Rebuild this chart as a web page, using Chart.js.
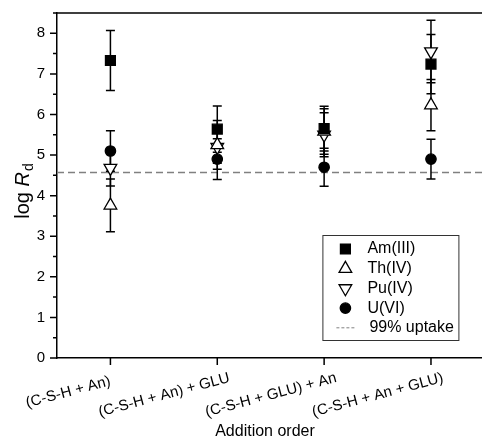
<!DOCTYPE html>
<html>
<head>
<meta charset="utf-8">
<script src="https://cdn.jsdelivr.net/npm/chart.js@4"></script>
<style>
  html, body { margin: 0; padding: 0; background: #fff; overflow: hidden; }
  #wrap { width: 493px; height: 439px; }
</style>
</head>
<body>
<div id="wrap"><canvas id="chart" width="493" height="439"></canvas></div>
<script>
// categories and values (log Rd)
const categories = ['(C-S-H + An)', '(C-S-H + An) + GLU', '(C-S-H + GLU) + An', '(C-S-H + An + GLU)'];
const amValues = [7.33, 5.64, 5.65, 7.24];
const amErrors = [0.74, 0.57, 0.55, 0.73];
const thValues = [3.76, 5.25, 5.58, 6.23];
const thErrors = [0.65, 0.6, 0.56, 0.63];
const puValues = [4.68, 5.2, 5.5, 7.55];
const puErrors = [0.44, 0.4, 0.54, 0.77];
const uValues = [5.1, 4.9, 4.7, 4.9];
const uErrors = [0.5, 0.5, 0.47, 0.49];
const uptakeLevel = 4.57;
const yTicks = [0, 1, 2, 3, 4, 5, 6, 7, 8];

const FONT = '"Liberation Sans", Arial, sans-serif';

// vertical error bars with caps, drawn under the markers
const errorBars = {
  id: 'errorBars',
  beforeDatasetsDraw(chart) {
    const ctx = chart.ctx;
    const y = chart.scales.y;
    const area = chart.chartArea;

    // 99% uptake line
    const yu = y.getPixelForValue(uptakeLevel);
    ctx.save();
    ctx.strokeStyle = '#808080';
    ctx.lineWidth = 1.5;
    ctx.setLineDash([7, 4]);
    ctx.beginPath();
    ctx.moveTo(area.left, yu);
    ctx.lineTo(area.right, yu);
    ctx.stroke();
    ctx.restore();

    chart.data.datasets.forEach((ds, i) => {
      const meta = chart.getDatasetMeta(i);
      meta.data.forEach((pt, j) => {
        const v = ds.data[j], e = ds.errors[j];
        const top = y.getPixelForValue(v + e);
        const bot = y.getPixelForValue(v - e);
        ctx.save();
        ctx.strokeStyle = '#000';
        ctx.lineWidth = 1.5;
        ctx.beginPath();
        ctx.moveTo(pt.x, top); ctx.lineTo(pt.x, bot);
        ctx.moveTo(pt.x - 4.5, top); ctx.lineTo(pt.x + 4.5, top);
        ctx.moveTo(pt.x - 4.5, bot); ctx.lineTo(pt.x + 4.5, bot);
        ctx.stroke();
        ctx.restore();
      });
    });
  }
};

// frame ticks, titles and the boxed legend
const decorations = {
  id: 'decorations',
  afterDraw(chart) {
    const ctx = chart.ctx;
    const area = chart.chartArea;
    const x = chart.scales.x, y = chart.scales.y;
    ctx.save();
    ctx.strokeStyle = '#000';
    ctx.lineWidth = 1.5;
    ctx.beginPath();
    ctx.moveTo(area.left, area.top);
    ctx.lineTo(area.right + 10, area.top);
    // y ticks, major and minor
    yTicks.forEach(v => {
      const py = y.getPixelForValue(v);
      ctx.moveTo(area.left - 7, py); ctx.lineTo(area.left, py);
      if (v + 0.5 <= y.max) {
        const pm = y.getPixelForValue(v + 0.5);
        ctx.moveTo(area.left - 4, pm); ctx.lineTo(area.left, pm);
      }
    });
    // x ticks
    categories.forEach((c, i) => {
      const px = x.getPixelForValue(i);
      ctx.moveTo(px, area.bottom); ctx.lineTo(px, area.bottom + 7);
    });
    ctx.stroke();

    // x title
    ctx.fillStyle = '#000';
    ctx.font = '16px ' + FONT;
    ctx.textAlign = 'center';
    ctx.textBaseline = 'alphabetic';
    ctx.fillText('Addition order', area.left + 208, 436);

    // y title: log R_d
    ctx.save();
    ctx.translate(29, (area.top + area.bottom) / 2 + 6);
    ctx.rotate(-Math.PI / 2);
    ctx.textAlign = 'left';
    ctx.font = '20px ' + FONT;
    const w1 = ctx.measureText('log ').width;
    ctx.font = 'italic 20px ' + FONT;
    const w2 = ctx.measureText('R').width;
    ctx.font = '14px ' + FONT;
    const w3 = ctx.measureText('d').width;
    let sx = -(w1 + w2 + w3) / 2;
    ctx.font = '20px ' + FONT;
    ctx.fillText('log ', sx, 0);
    ctx.font = 'italic 20px ' + FONT;
    ctx.fillText('R', sx + w1, 0);
    ctx.font = '14px ' + FONT;
    ctx.fillText('d', sx + w1 + w2 + 1, 4);
    ctx.restore();

    // legend box
    const bx = area.right - 162, by = area.bottom - 123, bw = 136, bh = 105;
    ctx.lineWidth = 1;
    ctx.strokeStyle = '#333';
    ctx.strokeRect(bx + 0.5, by + 0.5, bw, bh);
    ctx.font = '16px ' + FONT;
    ctx.textAlign = 'left';
    ctx.textBaseline = 'middle';
    chart.data.datasets.forEach((ds, i) => {
      const ly = by + 14 + i * 19.7;
      ctx.fillStyle = ds.pointBackgroundColor;
      ctx.strokeStyle = ds.pointBorderColor;
      ctx.lineWidth = ds.pointBorderWidth;
      Chart.helpers.drawPoint(ctx, {
        pointStyle: ds.pointStyle,
        rotation: ds.pointRotation || 0,
        radius: ds.pointRadius,
        borderWidth: ds.pointBorderWidth
      }, bx + 23, ly);
      ctx.fillStyle = '#000';
      ctx.fillText(ds.label, bx + 45, ly);
    });
    const ly = by + 14 + 4 * 19.7;
    ctx.strokeStyle = '#808080';
    ctx.lineWidth = 1;
    ctx.setLineDash([3, 2]);
    ctx.beginPath();
    ctx.moveTo(bx + 14, ly); ctx.lineTo(bx + 32, ly);
    ctx.stroke();
    ctx.setLineDash([]);
    ctx.fillStyle = '#000';
    ctx.fillText('99% uptake', bx + 47, ly);
    ctx.restore();
  }
};

function series(label, values, errors, style, radius, fill, rotation) {
  return {
    label: label,
    data: values,
    errors: errors,
    showLine: false,
    pointStyle: style,
    pointRotation: rotation,
    pointRadius: radius,
    pointHoverRadius: radius,
    pointBackgroundColor: fill,
    pointBorderColor: '#000',
    pointBorderWidth: 1.3
  };
}

new Chart(document.getElementById('chart'), {
  type: 'line',
  data: {
    labels: categories,
    datasets: [
      series('Am(III)', amValues, amErrors, 'rect', 7, '#000', 0),
      series('Th(IV)', thValues, thErrors, 'triangle', 7.3, '#fff', 0),
      series('Pu(IV)', puValues, puErrors, 'triangle', 7.3, '#fff', 180),
      series('U(VI)', uValues, uErrors, 'circle', 5.2, '#000', 0)
    ]
  },
  options: {
    responsive: false,
    animation: false,
    devicePixelRatio: 1,
    layout: { padding: { left: 0, top: 13, right: 2, bottom: 0 } },
    plugins: {
      legend: { display: false },
      tooltip: { enabled: false }
    },
    scales: {
      x: {
        type: 'category',
        offset: true,
        grid: { drawOnChartArea: false, drawTicks: false },
        border: { display: true, color: '#000', width: 1.5 },
        ticks: {
          color: '#000',
          font: { family: FONT, size: 15 },
          minRotation: 15,
          maxRotation: 15,
          autoSkip: false,
          padding: 11,
          labelOffset: 12,
          // the first label sits flush with its tick in the original
          callback: (v, i) => i === 0 ? categories[i] + '   ' : categories[i]
        },
        afterFit(scale) {
          scale.height = 81;
          scale.paddingLeft = 0;
          scale.paddingRight = 0;
        }
      },
      y: {
        min: 0,
        max: 8.5,
        grid: { drawOnChartArea: false, drawTicks: false },
        border: { display: true, color: '#000', width: 1.5 },
        ticks: {
          stepSize: 1,
          color: '#000',
          font: { family: FONT, size: 15 },
          padding: 12,
          callback: v => Number.isInteger(v) ? v : ''
        },
        afterFit(scale) {
          scale.width = 57;
          scale.paddingTop = 0;
          scale.paddingBottom = 0;
        }
      }
    }
  },
  plugins: [errorBars, decorations]
});
</script>
</body>
</html>
